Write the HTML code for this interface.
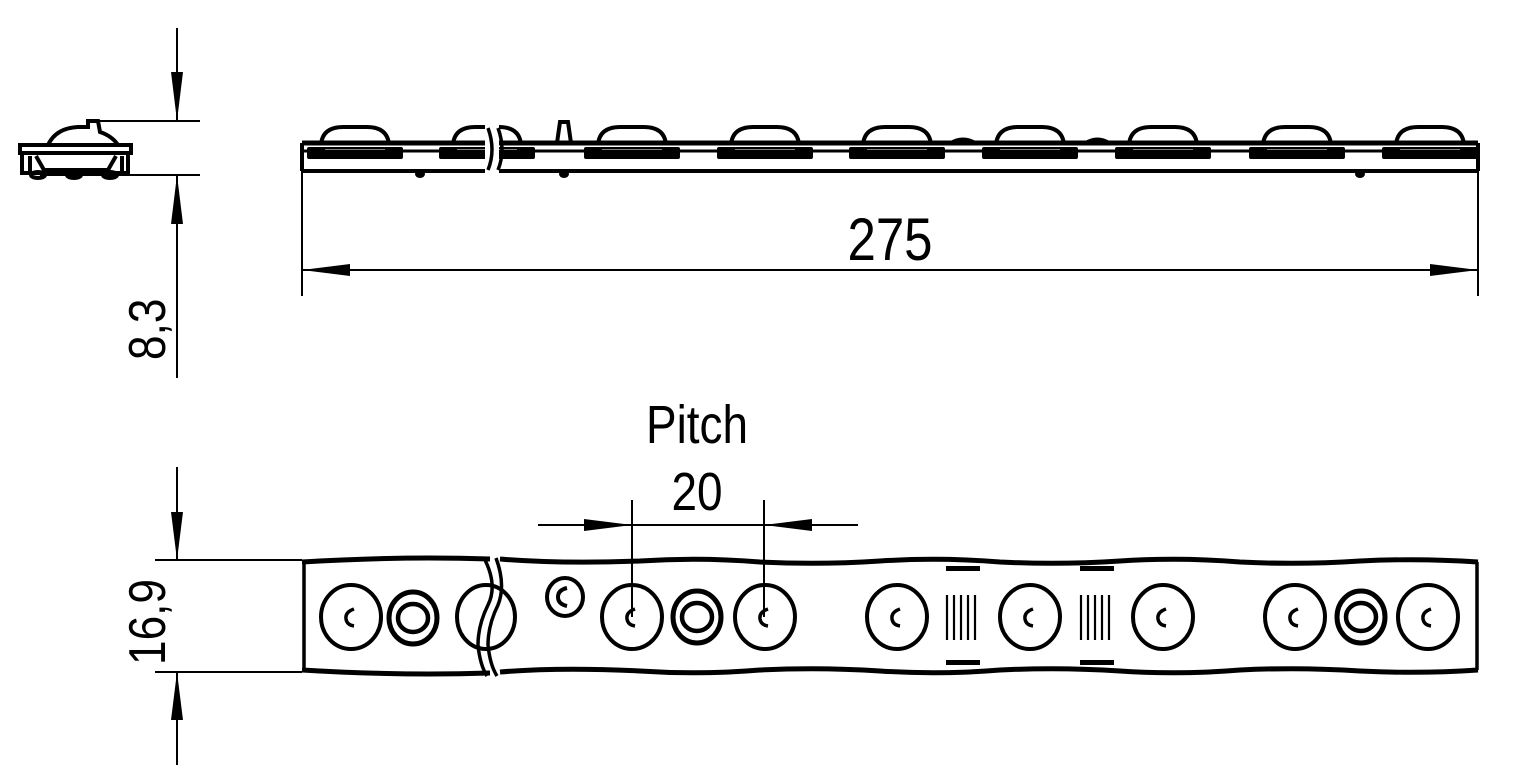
<!DOCTYPE html>
<html><head><style>html,body{margin:0;padding:0;background:#fff}svg{display:block}text{font-family:"Liberation Sans",sans-serif;fill:#000}</style></head><body>
<svg width="1527" height="777" viewBox="0 0 1527 777" xmlns="http://www.w3.org/2000/svg">
<defs>
<g id="led">
<path d="M-34,144 Q-32,127 -12,127 L12,127 Q32,127 34,144" fill="none" stroke="#000" stroke-width="4"/>
<rect x="-48" y="147" width="96" height="12" rx="2" fill="#000"/>
<line x1="-30" y1="150" x2="30" y2="150" stroke="#fff" stroke-width="2"/>
</g>
<g id="c">
<ellipse cx="0" cy="0" rx="30" ry="32" fill="none" stroke="#000" stroke-width="4"/>
<path d="M3,-8 Q-6,-5 -5,2 Q-4,8 3,9" fill="none" stroke="#000" stroke-width="3.5"/>
</g>
<g id="o">
<ellipse cx="0" cy="0" rx="24" ry="26" fill="none" stroke="#000" stroke-width="5"/>
<ellipse cx="0" cy="0" rx="15" ry="14" fill="none" stroke="#000" stroke-width="4.5"/>
</g>
<g id="bc">
<g stroke="#000" stroke-width="2.2"><line x1="1" y1="595" x2="1" y2="640"/><line x1="8" y1="595" x2="8" y2="640"/><line x1="15" y1="595" x2="15" y2="640"/><line x1="22" y1="595" x2="22" y2="640"/><line x1="29" y1="595" x2="29" y2="640"/></g>
<rect x="0" y="566" width="34" height="5" fill="#000"/>
<rect x="0" y="660" width="34" height="5" fill="#000"/>
</g>
</defs>

<!-- left side view -->
<g fill="none" stroke="#000" stroke-width="4">
<path d="M48,145 Q56,128 78,127 L88,127 L88,121 L98,121 L100,132 Q112,136 118,145"/>
<rect x="20" y="145" width="111" height="8" fill="none"/>
<path d="M22,153 L22,173 L128,173 L128,153"/>
<path d="M30,156 L30,172 M36,156 L44,170 L108,170 L116,156 M122,156 L122,172"/>
<ellipse cx="38" cy="175" rx="7" ry="3"/><ellipse cx="74" cy="175" rx="7" ry="3"/><ellipse cx="110" cy="175" rx="7" ry="3"/>
</g>
<!-- 8,3 dimension -->
<g stroke="#000" stroke-width="2">
<line x1="97" y1="121" x2="200" y2="121"/>
<line x1="40" y1="175" x2="200" y2="175"/>
<line x1="177" y1="28" x2="177" y2="121"/>
<line x1="177" y1="175" x2="177" y2="378"/>
</g>
<path d="M171,72 L183,72 L177,121 Z" fill="#000"/>
<path d="M171,224 L183,224 L177,175 Z" fill="#000"/>
<text transform="translate(165,360) rotate(-90) scale(0.85,1)" font-size="52">8,3</text>

<!-- top strip -->
<use href="#led" x="355"/><use href="#led" x="487"/><use href="#led" x="632"/><use href="#led" x="765"/><use href="#led" x="897"/><use href="#led" x="1030"/><use href="#led" x="1163"/><use href="#led" x="1297"/><use href="#led" x="1430"/>
<g fill="none" stroke="#000">
<line x1="302" y1="143" x2="1478" y2="143" stroke-width="5"/>
<line x1="302" y1="171" x2="1478" y2="171" stroke-width="4"/>
<line x1="302" y1="143" x2="302" y2="171" stroke-width="4"/>
<line x1="1478" y1="143" x2="1478" y2="171" stroke-width="4"/>
<line x1="302" y1="151" x2="1478" y2="151" stroke-width="3"/>
</g>
<rect x="485" y="115" width="14" height="60" fill="#fff"/>
<path d="M488,128 Q496,150 488,170 M498,128 Q506,150 498,170" fill="none" stroke="#000" stroke-width="3.5"/>
<path d="M557,143 L560,122 L568,122 L571,143" fill="none" stroke="#000" stroke-width="4"/>
<path d="M950,143 Q963,135 976,143 M1085,143 Q1097,135 1110,143" fill="#000" stroke="#000" stroke-width="3"/>
<g fill="#000"><ellipse cx="420" cy="174" rx="5" ry="4"/><ellipse cx="564" cy="174" rx="5" ry="4"/><ellipse cx="1360" cy="174" rx="5" ry="4"/></g>

<!-- 275 dimension -->
<g stroke="#000" stroke-width="2">
<line x1="302" y1="171" x2="302" y2="296"/>
<line x1="1478" y1="171" x2="1478" y2="296"/>
<line x1="302" y1="270" x2="1478" y2="270"/>
</g>
<path d="M302,270 L350,264 L350,276 Z M1478,270 L1430,264 L1430,276 Z" fill="#000"/>
<text x="890" y="260" font-size="60" text-anchor="middle" transform="translate(890,0) scale(0.85,1) translate(-890,0)">275</text>

<!-- Pitch -->
<text x="697" y="443" font-size="54" text-anchor="middle" transform="translate(697,0) scale(0.85,1) translate(-697,0)">Pitch</text>
<text x="697" y="510" font-size="54" text-anchor="middle" transform="translate(697,0) scale(0.85,1) translate(-697,0)">20</text>
<g stroke="#000" stroke-width="2">
<line x1="538" y1="525" x2="858" y2="525"/>
<line x1="632" y1="500" x2="632" y2="617"/>
<line x1="764" y1="500" x2="764" y2="617"/>
</g>
<path d="M632,525 L584,519 L584,531 Z M764,525 L812,519 L812,531 Z" fill="#000"/>

<!-- 16,9 dimension -->
<g stroke="#000" stroke-width="2">
<line x1="155" y1="560" x2="302" y2="560"/>
<line x1="155" y1="672" x2="302" y2="672"/>
<line x1="177" y1="467" x2="177" y2="560"/>
<line x1="177" y1="672" x2="177" y2="765"/>
</g>
<path d="M171,512 L183,512 L177,560 Z M171,720 L183,720 L177,672 Z" fill="#000"/>
<text transform="translate(165,665) rotate(-90) scale(0.85,1)" font-size="52">16,9</text>

<!-- bottom strip -->
<g fill="none" stroke="#000" stroke-width="5">
<path d="M302,562 Q400,556 490,559 M500,559 Q560,564 640,561 Q700,557 760,562 Q820,565 880,561 Q940,557 1000,562 Q1060,565 1120,561 Q1180,557 1240,562 Q1300,565 1360,561 Q1420,558 1478,562"/>
<path d="M302,670 Q400,676 490,673 M500,672 Q560,667 640,671 Q700,675 760,670 Q820,667 880,671 Q940,675 1000,670 Q1060,667 1120,671 Q1180,675 1240,670 Q1300,667 1360,671 Q1420,674 1478,670"/>
<line x1="304" y1="562" x2="304" y2="671" stroke-width="3.5"/>
<line x1="1477" y1="562" x2="1477" y2="670" stroke-width="3.5"/>
</g>
<use href="#c" x="351" y="617"/>
<use href="#o" x="413" y="618"/>
<ellipse cx="486" cy="617" rx="29" ry="32" fill="none" stroke="#000" stroke-width="4"/>
<path d="M484,558 Q498,585 488,605 Q478,625 478,645 Q480,665 487,676" fill="none" stroke="#000" stroke-width="3.5"/>
<path d="M496,558 Q506,585 498,605 Q488,625 488,645 Q490,665 497,676" fill="none" stroke="#000" stroke-width="3.5"/>
<ellipse cx="565" cy="597" rx="18" ry="19" fill="none" stroke="#000" stroke-width="4"/>
<path d="M567,588 Q558,590 558,597 Q558,604 567,606" fill="none" stroke="#000" stroke-width="4"/>
<use href="#c" x="632" y="617"/>
<use href="#o" x="697" y="617"/>
<use href="#c" x="765" y="617"/>
<use href="#c" x="897" y="617"/>
<use href="#bc" x="946" y="0"/>
<use href="#c" x="1030" y="617"/>
<use href="#bc" x="1080" y="0"/>
<use href="#c" x="1163" y="617"/>
<use href="#c" x="1295" y="617"/>
<use href="#o" x="1361" y="617"/>
<use href="#c" x="1428" y="617"/>
</svg>
</body></html>
